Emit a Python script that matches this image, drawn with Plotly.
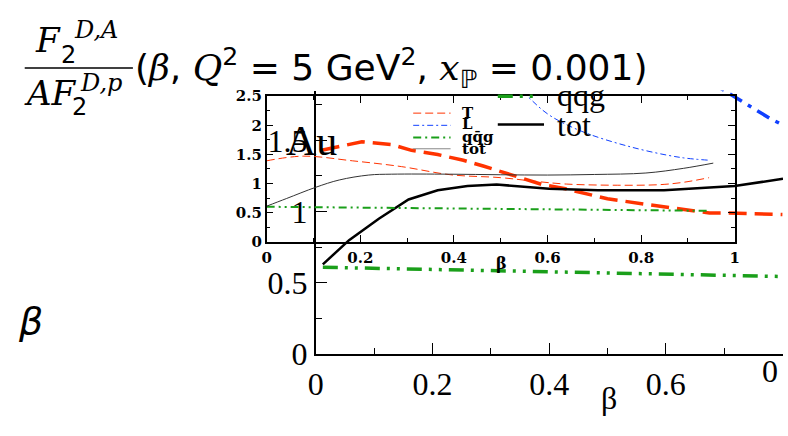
import plotly.graph_objects as go

W, H = 788, 436


def px(x):
    return x / W


def py(y):
    return 1 - y / H


# ---------------- data: large (Au) plot ----------------
au_T_x = [0.01, 0.079, 0.13, 0.164, 0.209, 0.253, 0.287, 0.332, 0.388, 0.428, 0.467, 0.50, 0.568, 0.607, 0.675, 0.708, 0.80]
au_T_y = [1.43, 1.49, 1.47, 1.43, 1.40, 1.36, 1.32, 1.26, 1.19, 1.16, 1.12, 1.09, 1.05, 1.03, 0.99, 0.99, 0.98]
au_L_x = [0.62, 0.66, 0.70, 0.74, 0.78, 0.80]
au_L_y = [2.08, 1.95, 1.85, 1.75, 1.65, 1.61]
au_qqg_x = [0.012, 0.2, 0.4, 0.6, 0.8]
au_qqg_y = [0.61, 0.595, 0.578, 0.562, 0.545]
au_tot_x = [0.012, 0.057, 0.108, 0.159, 0.209, 0.26, 0.31, 0.40, 0.484, 0.597, 0.718, 0.788, 0.801]
au_tot_y = [0.63, 0.80, 0.95, 1.085, 1.15, 1.18, 1.19, 1.16, 1.15, 1.15, 1.18, 1.22, 1.23]

# ---------------- data: inset plot ----------------
in_T_x = [0, 0.078, 0.183, 0.288, 0.393, 0.50, 0.57, 0.64, 0.75, 0.84, 0.89, 0.945]
in_T_y = [1.39, 1.47, 1.39, 1.29, 1.15, 1.10, 1.04, 0.99, 0.97, 0.98, 1.02, 1.10]
in_L_x = [0.45, 0.50, 0.557, 0.603, 0.672, 0.777, 0.882, 0.945]
in_L_y = [3.5, 2.95, 2.50, 2.18, 1.90, 1.63, 1.45, 1.40]
in_qqg_x = [0, 0.2, 0.4, 0.6, 0.8, 0.945]
in_qqg_y = [0.60, 0.585, 0.57, 0.555, 0.54, 0.53]
in_tot_x = [0, 0.042, 0.105, 0.155, 0.218, 0.267, 0.39, 0.50, 0.60, 0.70, 0.81, 0.89, 0.954]
in_tot_y = [0.61, 0.74, 0.935, 1.06, 1.145, 1.16, 1.16, 1.15, 1.145, 1.155, 1.18, 1.26, 1.35]

RED = "#ff3300"
BLUE = "#1040ff"
GREEN = "#1a9f1a"
BLACK = "#000000"

fig = go.Figure()

# large plot traces
fig.add_trace(go.Scatter(x=au_T_x, y=au_T_y, mode="lines", xaxis="x", yaxis="y",
                         line=dict(color=RED, width=3.5, dash="18px,8px"), showlegend=False))
fig.add_trace(go.Scatter(x=au_L_x, y=au_L_y, mode="lines", xaxis="x", yaxis="y",
                         line=dict(color=BLUE, width=3.5, dash="14px,7px,4px,7px"), showlegend=False))
fig.add_trace(go.Scatter(x=au_qqg_x, y=au_qqg_y, mode="lines", xaxis="x", yaxis="y",
                         line=dict(color=GREEN, width=3.5, dash="15px,7px,3px,7px,3px,7px"), showlegend=False))
fig.add_trace(go.Scatter(x=au_tot_x, y=au_tot_y, mode="lines", xaxis="x", yaxis="y",
                         line=dict(color=BLACK, width=2.5), showlegend=False))

# inset traces
fig.add_trace(go.Scatter(x=in_T_x, y=in_T_y, mode="lines", xaxis="x2", yaxis="y2", line_shape="spline",
                         line=dict(color=RED, width=1, dash="8px,4px"), showlegend=False))
fig.add_trace(go.Scatter(x=in_L_x, y=in_L_y, mode="lines", xaxis="x2", yaxis="y2", line_shape="spline",
                         line=dict(color=BLUE, width=1, dash="6px,3px,2px,3px"), showlegend=False))
fig.add_trace(go.Scatter(x=in_qqg_x, y=in_qqg_y, mode="lines", xaxis="x2", yaxis="y2",
                         line=dict(color=GREEN, width=2, dash="8px,4px,2px,4px,2px,4px"), showlegend=False))
fig.add_trace(go.Scatter(x=in_tot_x, y=in_tot_y, mode="lines", xaxis="x2", yaxis="y2", line_shape="spline",
                         line=dict(color="#333333", width=1), showlegend=False))

big_font = dict(family="Liberation Serif", size=32, color="black")
ins_font = dict(family="DejaVu Serif", size=15, color="black", weight="bold")

fig.update_layout(
    width=W, height=H, margin=dict(l=0, r=0, t=0, b=0),
    paper_bgcolor="white", plot_bgcolor="rgba(0,0,0,0)",
    showlegend=False,
    xaxis=dict(domain=[px(313), 1.0], range=[0, 475 / 593], anchor="y",
               showline=True, linecolor="black", linewidth=2, showgrid=False, zeroline=False,
               ticks="inside", ticklen=11, tickwidth=1.2, tickcolor="black", dtick=0.2, tick0=0,
               minor=dict(dtick=0.1, ticks="inside", ticklen=6, tickcolor="black", showgrid=False),
               tickfont=big_font),
    yaxis=dict(domain=[py(368), py(87)], range=[0, 281 / 152], anchor="x",
               showline=True, linecolor="black", linewidth=2, showgrid=False, zeroline=False,
               ticks="inside", ticklen=11, tickwidth=1.2, tickcolor="black", dtick=0.5, tick0=0,
               minor=dict(dtick=0.25, ticks="inside", ticklen=6, tickcolor="black", showgrid=False),
               tickfont=big_font),
    xaxis2=dict(domain=[px(263), px(739)], range=[0, 1], anchor="y2",
                showline=True, linecolor="black", linewidth=1.5, mirror="ticks", showgrid=False, zeroline=False,
                ticks="inside", ticklen=7, tickwidth=1, tickcolor="black", dtick=0.2, tick0=0,
                minor=dict(dtick=0.1, ticks="inside", ticklen=4, tickcolor="black", showgrid=False),
                tickfont=ins_font, ticklabelstandoff=2, ticklabeloverflow="allow"),
    yaxis2=dict(domain=[py(248), py(93)], range=[0, 2.5], anchor="x2",
                showline=True, linecolor="black", linewidth=1.5, mirror="ticks", showgrid=False, zeroline=False,
                ticks="inside", ticklen=7, tickwidth=1, tickcolor="black", dtick=0.5, tick0=0,
                minor=dict(dtick=0.25, ticks="inside", ticklen=4, tickcolor="black", showgrid=False),
                tickfont=ins_font, ticklabeloverflow="allow"),
)

SERIF_I = "font-family:'DejaVu Serif';font-style:italic"

annotations = []


def ann(text, x, y, size, family, xanchor="center", yanchor="middle", weight="normal", style="normal"):
    annotations.append(dict(text=text, x=px(x), y=py(y), xref="paper", yref="paper",
                            xanchor=xanchor, yanchor=yanchor, showarrow=False,
                            font=dict(size=size, family=family, color="black", weight=weight, style=style)))


# title (fraction)
ann("F", 41, 33, 34, "DejaVu Serif", style="italic")
ann("2", 62, 49, 24, "DejaVu Sans")
ann("D,A", 89, 22, 24, "DejaVu Serif", style="italic")
ann("AF", 43, 90, 34, "DejaVu Serif", style="italic")
ann("D,p", 95, 79, 24, "DejaVu Serif", style="italic")
ann("2", 73, 104, 24, "DejaVu Sans")
ann("(<span style=\"%s\">β</span>, <span style=\"%s\">Q</span><sup>2</sup> = 5 GeV<sup>2</sup>, "
    "<span style=\"%s\">x</span><sub>ℙ</sub> = 0.001)" % (SERIF_I, SERIF_I, SERIF_I),
    127, 63, 36, "DejaVu Sans", xanchor="left")

# left beta
ann("β", 23, 333, 38, "DejaVu Sans", style="italic")

# big plot labels
ann("β", 611, 436, 32, "Liberation Serif", yanchor="bottom")
ann("Au", 309, 141, 42, "Liberation Serif")
ann("qqg", 556, 92, 32, "Liberation Serif", xanchor="left")
ann("tot", 556, 124, 32, "Liberation Serif", xanchor="left")
# the 0.8 tick label of the large plot is cut by the page edge: only its "0" shows
ann("0", 785, 386, 32, "Liberation Serif", xanchor="right")

# inset labels
ann("β", 502, 271, 16, "DejaVu Serif", weight="bold")
ann("T", 460, 111, 15, "DejaVu Serif", xanchor="left", weight="bold")
ann("L", 460, 123, 15, "DejaVu Serif", xanchor="left", weight="bold")
ann("qq\u0304g", 460, 136, 15, "DejaVu Serif", xanchor="left", weight="bold")
ann("tot", 460, 149, 15, "DejaVu Serif", xanchor="left", weight="bold")

fig.update_layout(annotations=annotations)

shapes = []


def seg(x0, x1, y, color, width, dash="solid"):
    shapes.append(dict(type="line", xref="paper", yref="paper", x0=px(x0), x1=px(x1), y0=py(y), y1=py(y),
                       line=dict(color=color, width=width, dash=dash)))


# fraction bar
seg(17, 127, 63, "black", 1.5)
# inset legend samples
seg(412, 450, 111, RED, 1, "8px,4px")
seg(412, 450, 124, BLUE, 1, "6px,3px,2px,3px")
seg(412, 450, 137, GREEN, 2, "8px,4px,2px,4px")
seg(412, 450, 149, "#888888", 1)
# large plot legend samples
seg(498, 538, 93, GREEN, 3.5, "15px,7px,3px,7px,3px,7px")
seg(498, 545, 123, BLACK, 2.5)

fig.update_layout(shapes=shapes)

fig.write_html("out.html")
